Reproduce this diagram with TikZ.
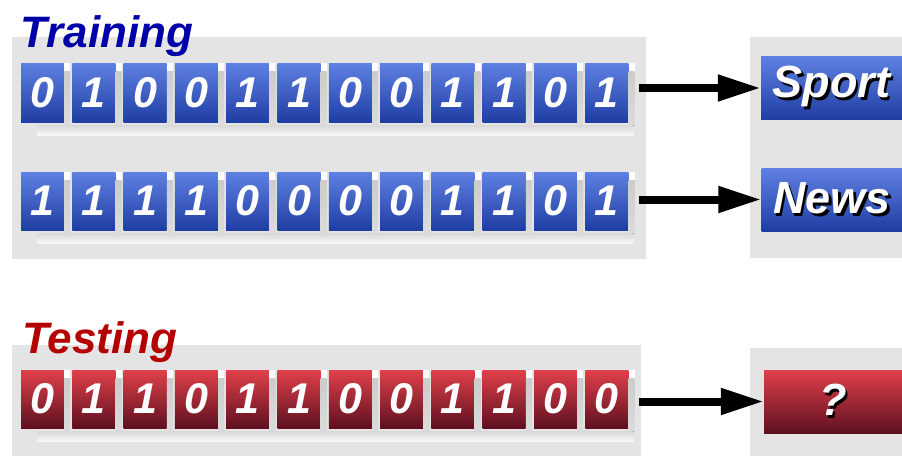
\documentclass[tikz,border=0pt]{standalone}
\usepackage{fontspec}
\setmainfont{Liberation Sans}
\usepackage{tikz}
\usetikzlibrary{arrows.meta}
\usetikzlibrary{calc}

\definecolor{panelgray}{HTML}{E4E4E4}
\definecolor{traincol}{HTML}{0000A8}
\definecolor{testcol}{HTML}{B40000}
\definecolor{bluetop}{HTML}{5F80E2}
\definecolor{bluebot}{HTML}{1F3EA4}
\definecolor{redtop}{HTML}{E0404A}
\definecolor{redbot}{HTML}{5E1020}
\newcommand{\shadowed}[1]{\makebox[0pt][l]{\hspace{2.5pt}\raisebox{-2.5pt}{\color{black}#1}}#1}

\begin{document}
\begin{tikzpicture}[x=1pt, y=-1pt,
      panel/.style={fill=panelgray},
      bit/.style={minimum width=43pt, minimum height=59pt, inner sep=0pt,
        text=white, font=\fontsize{43}{43}\selectfont\bfseries\itshape},
      bluebit/.style={bit, top color=bluetop, bottom color=bluebot},
      redbit/.style={bit, top color=redtop, bottom color=redbot},
      tileshadow/.style={top color=gray!40, bottom color=gray!28},
      rowstrip/.style={top color=gray!30, bottom color=gray!6},
      title/.style={anchor=base west, font=\fontsize{44}{44}\selectfont\bfseries\itshape},
      classbox/.style={minimum width=141pt, minimum height=63pt, inner sep=0pt,
        text=white, font=\fontsize{45}{45}\selectfont\bfseries\itshape},
      bigarrow/.style={line width=8pt, -{Triangle[length=43pt,width=25pt]}}
      ]
      \useasboundingbox (0,0) rectangle (902,456);

      % panels
      \fill[panel] (12,37) rectangle (646,259);
      \fill[panel] (750,37) rectangle (902,258);
      \fill[panel] (12,345) rectangle (641,456);
      \fill[panel] (750,348) rectangle (902,456);

      \node[title, text=traincol] (Training) at (17,47) {Training};
      \node[title, text=testcol] (Testing) at (19,353) {Testing};

      % training strings
      \foreach \b [count=\i] in {0,1,0,0,1,1,0,0,1,1,0,1} {
        \node[bluebit] (TrainA\i) at ({42.5+51.3*(\i-1)},92.5) {\b};
        \fill[white] (TrainA\i.north east) rectangle ++(6,9);
        \fill[tileshadow] ([yshift=-9pt]TrainA\i.north east) rectangle ($(TrainA\i.south east)+(6,3)$);
      }
      \fill[rowstrip] ($(TrainA1.south west)+(16,3)$) rectangle ($(TrainA12.south east)+(5,13)$);

      \foreach \b [count=\i] in {1,1,1,1,0,0,0,0,1,1,0,1} {
        \node[bluebit, minimum height=58pt] (TrainB\i) at ({42.5+51.3*(\i-1)},201) {\b};
        \fill[white] (TrainB\i.north east) rectangle ++(6,9);
        \fill[tileshadow] ([yshift=-9pt]TrainB\i.north east) rectangle ($(TrainB\i.south east)+(6,3)$);
      }
      \fill[rowstrip] ($(TrainB1.south west)+(16,3)$) rectangle ($(TrainB12.south east)+(5,13)$);

      % testing string
      \foreach \b [count=\i] in {0,1,1,0,1,1,0,0,1,1,0,0} {
        \node[redbit, minimum height=58pt] (TestA\i) at ({42.5+51.3*(\i-1)},399) {\b};
        \fill[white] (TestA\i.north east) rectangle ++(6,9);
        \fill[tileshadow] ([yshift=-9pt]TestA\i.north east) rectangle ($(TestA\i.south east)+(6,3)$);
      }
      \fill[rowstrip] ($(TestA1.south west)+(16,3)$) rectangle ($(TestA12.south east)+(5,13)$);

      % classes
      \node[classbox, top color=bluetop, bottom color=bluebot] (Sport) at (831.5,88) {\shadowed{Sport}};
      \node[classbox, top color=bluetop, bottom color=bluebot] (News) at (832,199.5) {\shadowed{News}};
      \node[classbox, minimum width=138pt, top color=redtop, bottom color=redbot] (Unknown) at (833,401.5) {\shadowed{?}};

      \draw[bigarrow] ($(TrainA12.east |- Sport.west)+(10,0)$) -- (Sport.west);
      \draw[bigarrow] ($(TrainB12.east |- News.west)+(10,0)$) -- (News.west);
      \draw[bigarrow] ($(TestA12.east |- Unknown.west)+(10,0)$) -- (Unknown.west);
    \end{tikzpicture}
\end{document}
